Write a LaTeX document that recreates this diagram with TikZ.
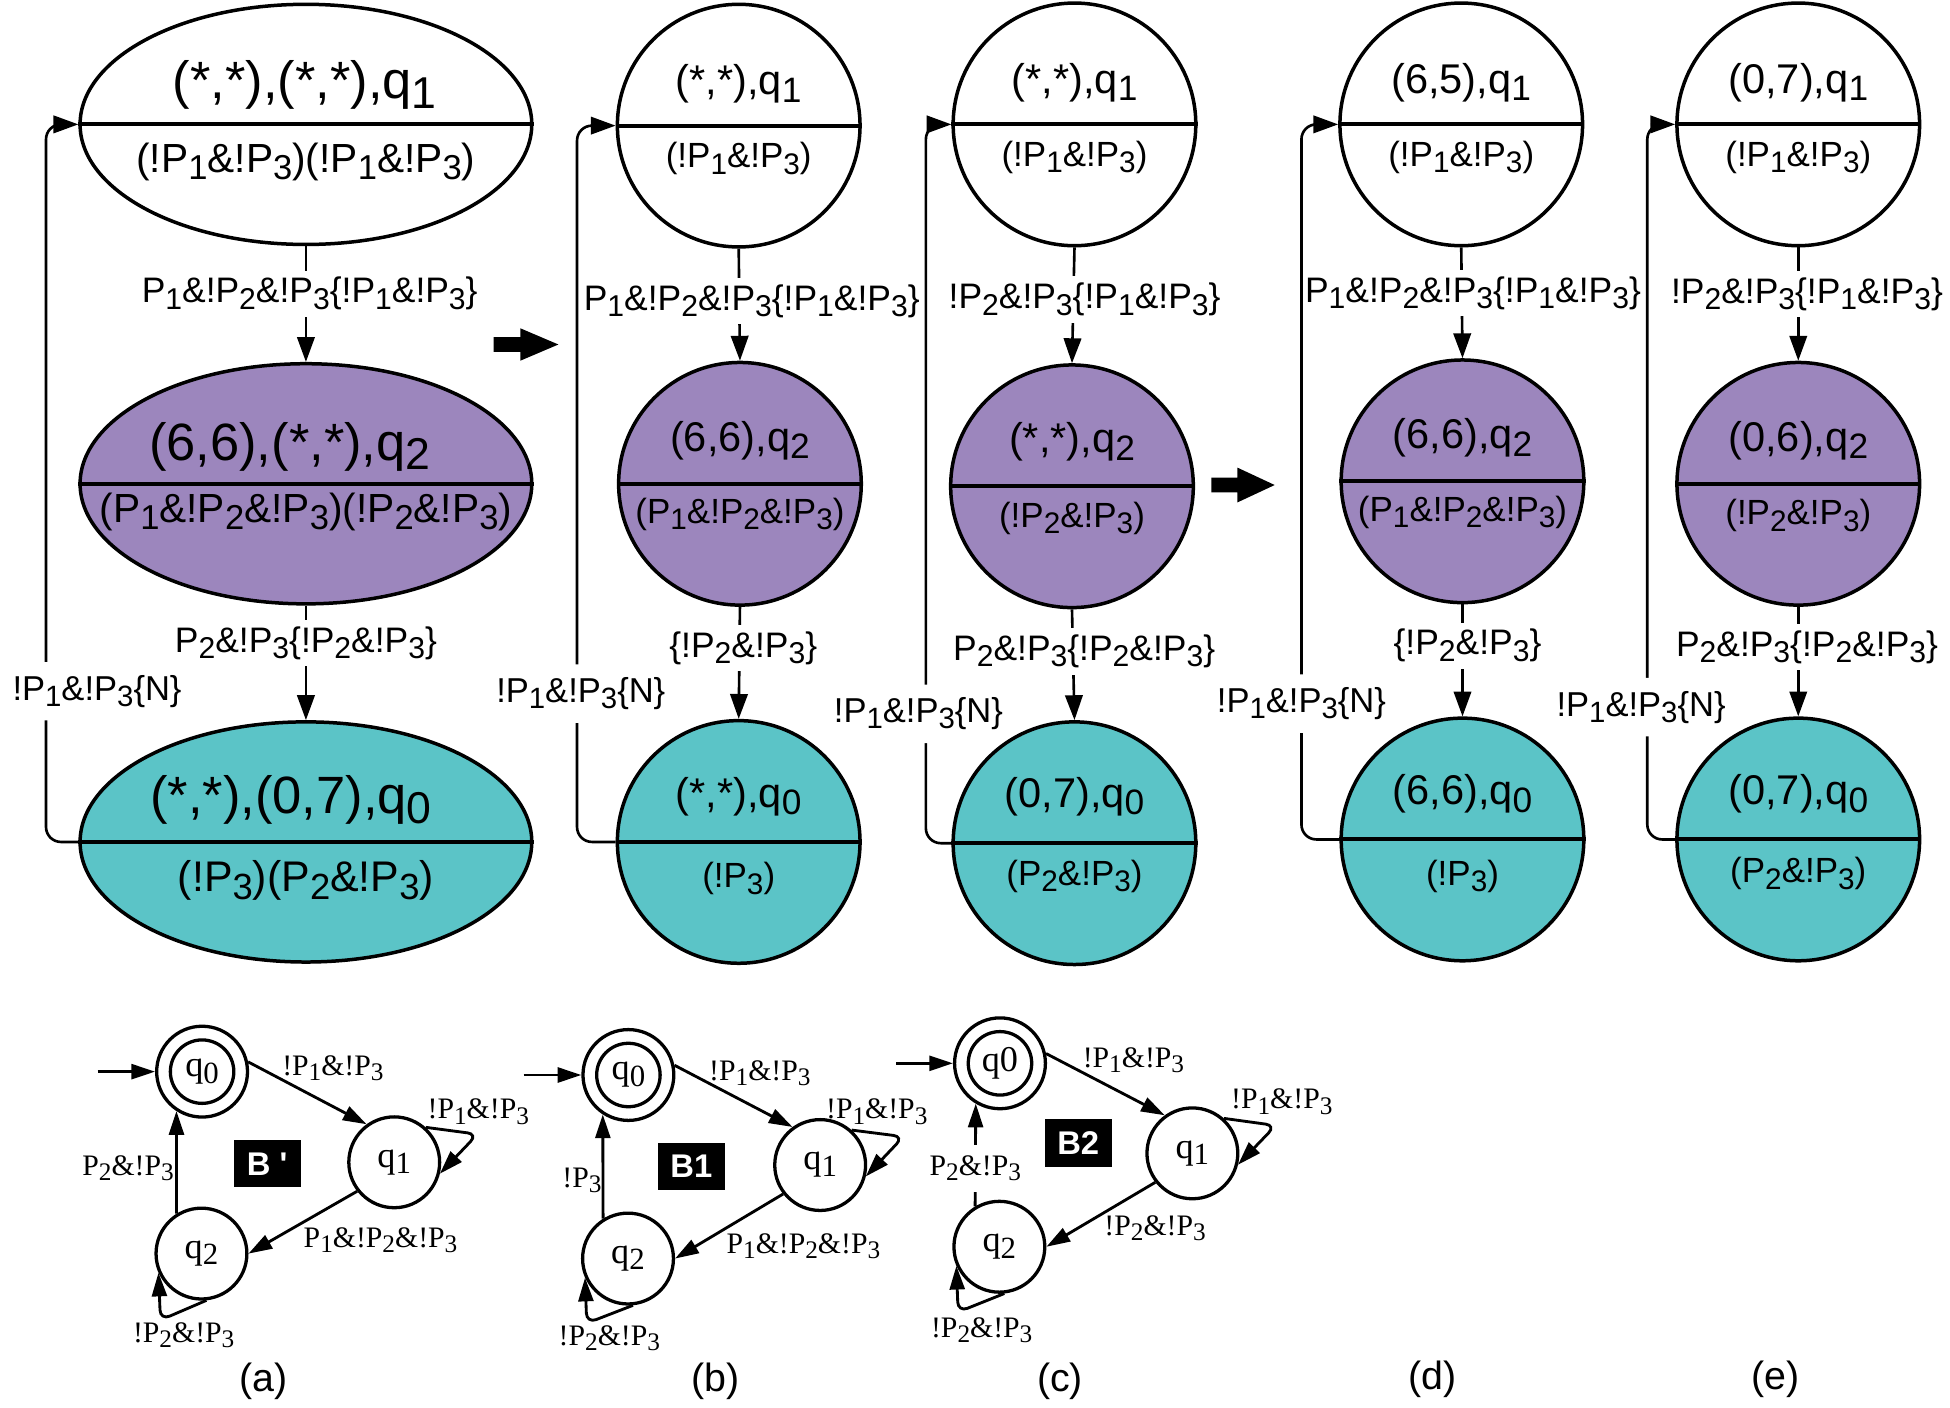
\documentclass[tikz,border=0pt]{standalone}
\usepackage{fontspec}
\usepackage{graphicx}
\setmainfont{Liberation Sans}
\newfontfamily\tms{Liberation Serif}
\usetikzlibrary{shapes.geometric,arrows.meta}
\definecolor{purp}{RGB}{156,134,189}
\definecolor{tealc}{RGB}{91,196,199}
\newcommand\sbs[1]{\raisebox{-0.18em}{\scalebox{0.85}{#1}}}
\newcommand\Pn[1]{P\sbs{#1}}
\newcommand\qn[1]{q\sbs{#1}}
\newcommand\fs[1]{\fontsize{#1}{#1}\selectfont}
\newcommand\inside[8]{%
  \draw[divl] (#1.west) -- (#1.east);
  \node[anchor=base,font=\fs{#4}] (#1u) at ([shift={(#8,#2)}]#1.center) {#6};
  \node[anchor=base,font=\fs{#5}] (#1l) at ([shift={(0,#3)}]#1.center) {#7};}
\tikzset{
  bigell/.style={ellipse,draw,line width=0.8pt,minimum width=3.63cm,minimum height=1.93cm,inner sep=0pt},
  circ/.style={ellipse,draw,line width=0.8pt,minimum width=1.95cm,minimum height=1.95cm,inner sep=0pt},
  divl/.style={line width=0.9pt},
  conn/.style={line width=0.6pt,-{Triangle[length=0.2cm,width=0.14cm]}},
  lbl/.style={fill=white,inner xsep=1pt,inner ysep=1.5pt,font=\fs{8.1}},
  blbl/.style={fill=white,inner xsep=1pt,inner ysep=3pt,font=\fs{7.9}},
  st/.style={circle,draw,line width=0.75pt,minimum size=0.73cm,inner sep=0pt,font=\tms\fs{8.3}},
  sti/.style={circle,draw,line width=0.75pt,minimum size=0.51cm,inner sep=0pt,font=\tms\fs{8.3}},
  aconn/.style={line width=0.65pt,-{Triangle[length=0.19cm,width=0.12cm]}},
  alb/.style={inner sep=0.5pt,font=\tms\fs{6.8}},
  bbox/.style={fill=black,text=white,font=\bfseries\fs{7.5},minimum width=0.54cm,minimum height=0.38cm,inner sep=0pt},
  captxt/.style={font=\fs{9}}
}
\begin{document}
\begin{tikzpicture}[x=0.01cm,y=-0.01cm]
\useasboundingbox (0,0) rectangle (1568,1132);
% ---------------- (a)
\node[bigell] (A1) at (246,100) {};
\node[bigell,fill=purp] (A2) at (246,389) {};
\node[bigell,fill=tealc] (A3) at (246,677) {};
\inside{A1}{-20.5}{38.5}{12.0}{9.3}{(*,*),(*,*),\qn1}{(!\Pn1\&!\Pn3)(!\Pn1\&!\Pn3)}{-1}
\inside{A2}{-19}{31}{12.0}{9.3}{(6,6),(*,*),\qn2}{(\Pn1\&!\Pn2\&!\Pn3)(!\Pn2\&!\Pn3)}{-13}
\inside{A3}{-22.5}{40}{12.0}{9.8}{(*,*),(0,7),\qn0}{(!\Pn3)(\Pn2\&!\Pn3)}{-12}
\draw[conn] (A1.south) -- node[lbl,pos=.41,xshift=0.03cm]{\Pn1\&!\Pn2\&!\Pn3\{!\Pn1\&!\Pn3\}} (A2.north);
\draw[conn] (A2.south) -- node[lbl,pos=.33]{\Pn2\&!\Pn3\{!\Pn2\&!\Pn3\}} (A3.north);
\coordinate (a1) at (37,677); \coordinate (a2) at (37,100);
\draw[conn,rounded corners=0.12cm] (A3.west) -- (a1) -- node[blbl,pos=.21,xshift=0.41cm]{!\Pn1\&!\Pn3\{N\}} (a2) -- (A1.west);
% big arrow 1
\fill (397,271) -- (418.5,271) -- (418.5,264) -- (449,277) -- (418.5,290) -- (418.5,283) -- (397,283) -- cycle;
% ---------------- (b)
\node[circ] (B1) at (594,101) {};
\node[circ,fill=purp] (B2) at (595,389) {};
\node[circ,fill=tealc] (B3) at (594,677) {};
\inside{B1}{-25}{34}{9.5}{8.0}{(*,*),\qn1}{(!\Pn1\&!\Pn3)}{0}
\inside{B2}{-26}{32}{9.5}{8.0}{(6,6),\qn2}{(\Pn1\&!\Pn2\&!\Pn3)}{0}
\inside{B3}{-28}{37}{9.5}{8.0}{(*,*),\qn0}{(!\Pn3)}{0}
\draw[conn] (B1.south) -- node[lbl,pos=.47,xshift=0.1cm]{\Pn1\&!\Pn2\&!\Pn3\{!\Pn1\&!\Pn3\}} (B2.north);
\draw[conn] (B2.south) -- node[lbl,pos=.37,xshift=0.03cm]{\{!\Pn2\&!\Pn3\}} (B3.north);
\coordinate (b1) at (464,677); \coordinate (b2) at (464,101);
\draw[conn,rounded corners=0.12cm] (B3.west) -- (b1) -- node[blbl,pos=.207,xshift=0.03cm]{!\Pn1\&!\Pn3\{N\}} (b2) -- (B1.west);
% ---------------- (c)
\node[circ] (C1) at (864,100) {};
\node[circ,fill=purp] (C2) at (862,391) {};
\node[circ,fill=tealc] (C3) at (864,678) {};
\inside{C1}{-25}{34}{9.5}{8.0}{(*,*),\qn1}{(!\Pn1\&!\Pn3)}{0}
\inside{C2}{-27}{33}{9.5}{8.0}{(*,*),\qn2}{(!\Pn2\&!\Pn3)}{0}
\inside{C3}{-29}{34}{9.5}{8.0}{(0,7),\qn0}{(\Pn2\&!\Pn3)}{0}
\draw[conn] (C1.south) -- node[lbl,pos=.45,xshift=0.09cm]{!\Pn2\&!\Pn3\{!\Pn1\&!\Pn3\}} (C2.north);
\draw[conn] (C2.south) -- node[lbl,pos=.38,xshift=0.09cm]{\Pn2\&!\Pn3\{!\Pn2\&!\Pn3\}} (C3.north);
\coordinate (c1) at (744.5,678); \coordinate (c2) at (744.5,100);
\draw[conn,rounded corners=0.12cm] (C3.west) -- (c1) -- node[blbl,pos=.18,xshift=-0.06cm]{!\Pn1\&!\Pn3\{N\}} (c2) -- (C1.west);
% big arrow 2
\fill (974,384) -- (995,384) -- (995,376) -- (1025,390) -- (995,404) -- (995,396) -- (974,396) -- cycle;
% ---------------- (d)
\node[circ] (D1) at (1175,100) {};
\node[circ,fill=purp] (D2) at (1176,387) {};
\node[circ,fill=tealc] (D3) at (1176,675) {};
\inside{D1}{-25}{34}{9.5}{8.0}{(6,5),\qn1}{(!\Pn1\&!\Pn3)}{0}
\inside{D2}{-26}{32}{9.5}{8.0}{(6,6),\qn2}{(\Pn1\&!\Pn2\&!\Pn3)}{0}
\inside{D3}{-28}{37}{9.5}{8.0}{(6,6),\qn0}{(!\Pn3)}{0}
\draw[conn] (D1.south) -- node[lbl,pos=.41,xshift=0.09cm]{\Pn1\&!\Pn2\&!\Pn3\{!\Pn1\&!\Pn3\}} (D2.north);
\draw[conn] (D2.south) -- node[lbl,pos=.37,xshift=0.04cm]{\{!\Pn2\&!\Pn3\}} (D3.north);
\coordinate (d1) at (1046.5,675); \coordinate (d2) at (1046.5,100);
\draw[conn,rounded corners=0.12cm] (D3.west) -- (d1) -- node[blbl,pos=.19]{!\Pn1\&!\Pn3\{N\}} (d2) -- (D1.west);
% ---------------- (e)
\node[circ] (E1) at (1446,100) {};
\node[circ,fill=purp] (E2) at (1446,389) {};
\node[circ,fill=tealc] (E3) at (1446,675) {};
\inside{E1}{-25}{34}{9.5}{8.0}{(0,7),\qn1}{(!\Pn1\&!\Pn3)}{0}
\inside{E2}{-26}{33}{9.5}{8.0}{(0,6),\qn2}{(!\Pn2\&!\Pn3)}{0}
\inside{E3}{-28}{35}{9.5}{8.0}{(0,7),\qn0}{(\Pn2\&!\Pn3)}{0}
\draw[conn] (E1.south) -- node[lbl,pos=.41,xshift=0.07cm]{!\Pn2\&!\Pn3\{!\Pn1\&!\Pn3\}} (E2.north);
\draw[conn] (E2.south) -- node[lbl,pos=.37,xshift=0.07cm]{\Pn2\&!\Pn3\{!\Pn2\&!\Pn3\}} (E3.north);
\coordinate (e1) at (1324.6,675); \coordinate (e2) at (1324.6,100);
\draw[conn,rounded corners=0.12cm] (E3.west) -- (e1) -- node[blbl,pos=.185,xshift=-0.05cm]{!\Pn1\&!\Pn3\{N\}} (e2) -- (E1.west);
% ================= automata
% (a)
\node[st] (qa0) at (162.5,861.7) {};
\node[sti] (qa0i) at (qa0) {\qn0};
\node[st] (qa1) at (317,934.6) {\qn1};
\node[st] (qa2) at (162,1008) {\qn2};
\coordinate (ia) at (78.5,861.7);
\draw[aconn] (ia) -- (qa0);
\draw[aconn] (qa0.12) -- (qa1.126);
\draw[aconn] (qa1.218) -- (qa2.0);
\draw[aconn] (qa2.122) -- (qa0.237);
\coordinate (la1) at (384,912);
\draw[aconn,rounded corners=0.08cm] (qa1.48) -- (la1) -- (qa1.-14);
\coordinate (la2) at (129,1061.5);
\draw[aconn,rounded corners=0.08cm] (qa2.-84) -- (la2) -- (qa2.204);
\node[alb] at (267.7,859) {!\Pn1\&!\Pn3};
\node[alb] at (384.6,893.9) {!\Pn1\&!\Pn3};
\node[alb] at (103,939.5) {\Pn2\&!\Pn3};
\node[alb] at (306,997) {\Pn1\&!\Pn2\&!\Pn3};
\node[alb] at (147.7,1073.5) {!\Pn2\&!\Pn3};
\node[bbox] at (214.8,935.8) {B \textquotesingle};
\node[captxt] at (211.7,1111) {(a)};
% (b)
\node[st] (qb0) at (505.3,864.4) {};
\node[sti] (qb0i) at (qb0) {\qn0};
\node[st] (qb1) at (659.5,936.8) {\qn1};
\node[st] (qb2) at (505,1012) {\qn2};
\coordinate (ib) at (421,864.4);
\draw[aconn] (ib) -- (qb0);
\draw[aconn] (qb0.12) -- (qb1.126);
\draw[aconn] (qb1.218) -- (qb2.0);
\draw[aconn] (qb2.122) -- (qb0.237);
\coordinate (lb1) at (726.5,914);
\draw[aconn,rounded corners=0.08cm] (qb1.48) -- (lb1) -- (qb1.-14);
\coordinate (lb2) at (471.8,1064);
\draw[aconn,rounded corners=0.08cm] (qb2.-84) -- (lb2) -- (qb2.204);
\node[alb] at (611,863) {!\Pn1\&!\Pn3};
\node[alb] at (705,894) {!\Pn1\&!\Pn3};
\node[alb] at (468,949) {!\Pn3};
\node[alb] at (646,1002) {\Pn1\&!\Pn2\&!\Pn3};
\node[alb] at (490,1076) {!\Pn2\&!\Pn3};
\node[bbox] at (556,938) {B1};
\node[captxt] at (575,1111) {(b)};
% (c)
\node[st] (qc0) at (804.1,855) {};
\node[sti] (qc0i) at (qc0) {q0};
\node[st] (qc1) at (958.8,927.4) {\qn1};
\node[st] (qc2) at (803.6,1002.5) {\qn2};
\coordinate (ic) at (720.5,855);
\draw[aconn] (ic) -- (qc0);
\draw[aconn] (qc0.12) -- (qc1.126);
\draw[aconn] (qc1.218) -- (qc2.0);
\draw[aconn] (qc2.121) -- node[alb,fill=white,inner ysep=2.5pt,pos=.37]{\Pn2\&!\Pn3} (qc0.239);
\coordinate (lc1) at (1025.8,905);
\draw[aconn,rounded corners=0.08cm] (qc1.48) -- (lc1) -- (qc1.-14);
\coordinate (lc2) at (770.4,1055);
\draw[aconn,rounded corners=0.08cm] (qc2.-84) -- (lc2) -- (qc2.204);
\node[alb] at (911.4,852.3) {!\Pn1\&!\Pn3};
\node[alb] at (1030.7,885.9) {!\Pn1\&!\Pn3};
\node[alb] at (928.8,987.7) {!\Pn2\&!\Pn3};
\node[alb] at (789.4,1069.5) {!\Pn2\&!\Pn3};
\node[bbox] at (867,919) {B2};
\node[captxt] at (852.4,1111) {(c)};
% (d),(e)
\node[captxt] at (1152,1109) {(d)};
\node[captxt] at (1428,1109) {(e)};
\end{tikzpicture}
\end{document}
